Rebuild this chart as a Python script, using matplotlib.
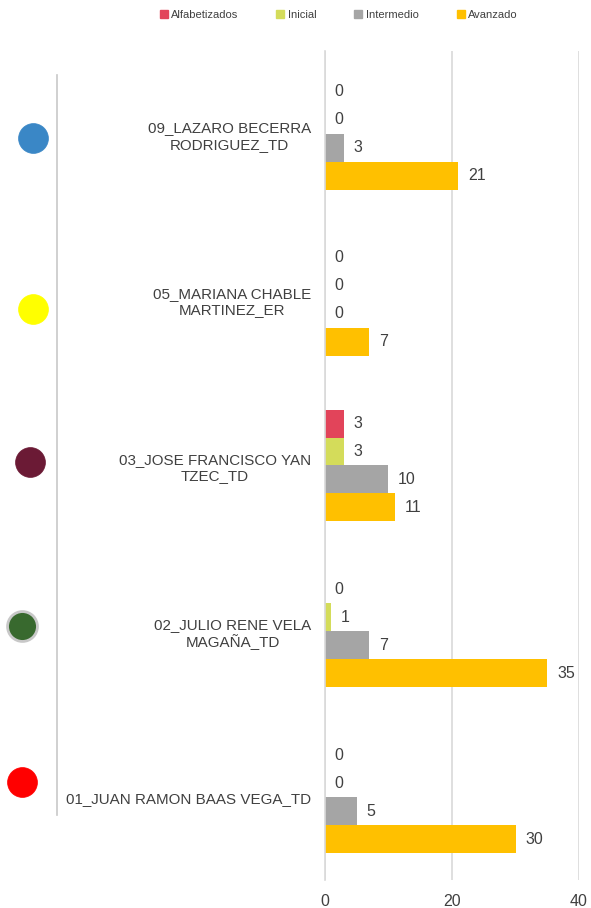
import matplotlib.pyplot as plt
from matplotlib.lines import Line2D
from matplotlib.patches import Patch

plt.rcParams['font.family'] = ['Liberation Sans', 'DejaVu Sans']

categories = ['01_JUAN RAMON BAAS VEGA_TD', '02_JULIO RENE VELA\nMAGAÑA_TD',
              '03_JOSE FRANCISCO YAN\nTZEC_TD', '05_MARIANA CHABLE\nMARTINEZ_ER',
              '09_LAZARO BECERRA\nRODRIGUEZ_TD']
series = ['Alfabetizados', 'Inicial', 'Intermedio', 'Avanzado']
alfabetizados = [0, 0, 3, 0, 0]
inicial = [0, 1, 3, 0, 0]
intermedio = [5, 7, 10, 0, 3]
avanzado = [30, 35, 11, 7, 21]
values = [alfabetizados, inicial, intermedio, avanzado]
colors = ['#E2445A', '#D4DC5A', '#A5A5A5', '#FFC000']
dot_colors = ['#FF0000', '#38692E', '#6B1A35', '#FFFF00', '#3A87C6']
xticks = [0, 20, 40]

W, H = 591, 908
fig = plt.figure(figsize=(W / 100, H / 100), dpi=100)
ax = fig.add_axes([325 / W, 1 - 880 / H, (579 - 325) / W, (880 - 51) / H])

h = 28 / 166
offsets = [1.5 * h, 0.5 * h, -0.5 * h, -1.5 * h]
ypos = range(len(categories))
for name, vals, col, off in zip(series, values, colors, offsets):
    rects = ax.barh([y + off for y in ypos], vals, height=h, color=col, label=name)
    ax.bar_label(rects, padding=7, fontsize=11.5, color='#404040')

ax.set_xlim(0, 40)
ax.set_ylim(-0.5, 4.5)
ax.set_xticks(xticks)
ax.set_xticklabels([str(t) for t in xticks], fontsize=11.5, color='#404040')
ax.set_yticks(list(ypos))
ax.set_yticklabels(categories, fontsize=10.9, color='#404040',
                   multialignment='center')
ax.tick_params(axis='y', length=0, pad=10)
ax.tick_params(axis='x', length=0, pad=10)
ax.xaxis.grid(True, color='#D9D9D9', linewidth=1.2)
ax.set_axisbelow(True)
for s in ['top', 'right', 'bottom']:
    ax.spines[s].set_visible(False)
ax.spines['left'].set_color('#D9D9D9')
ax.spines['left'].set_linewidth(1.2)

# left divider line
fig.add_artist(Line2D([57 / W, 57 / W], [1 - 75 / H, 1 - 815 / H],
                      color='#C8C8C8', linewidth=1.2))

# coloured dots
dot_xy = [(22, 782), (22, 626), (30, 462), (33, 309), (33, 138)]
for (px, py), c in zip(dot_xy, dot_colors):
    green = c == '#38692E'
    fig.add_artist(Line2D([px / W], [1 - py / H], marker='o', markersize=21.5,
                          markerfacecolor=c, markeredgecolor='#C8C8C8' if green else c,
                          markeredgewidth=2 if green else 0.5, linestyle=''))

handles = [Patch(color=c) for c in colors]
fig.legend(handles, series, loc='center', bbox_to_anchor=(0.573, 1 - 15 / H), ncol=4,
           frameon=False, fontsize=8, handlelength=0.7, handleheight=0.7,
           handletextpad=0.3, columnspacing=3.45, labelcolor='#404040')

fig.savefig('out.png', dpi=100)
